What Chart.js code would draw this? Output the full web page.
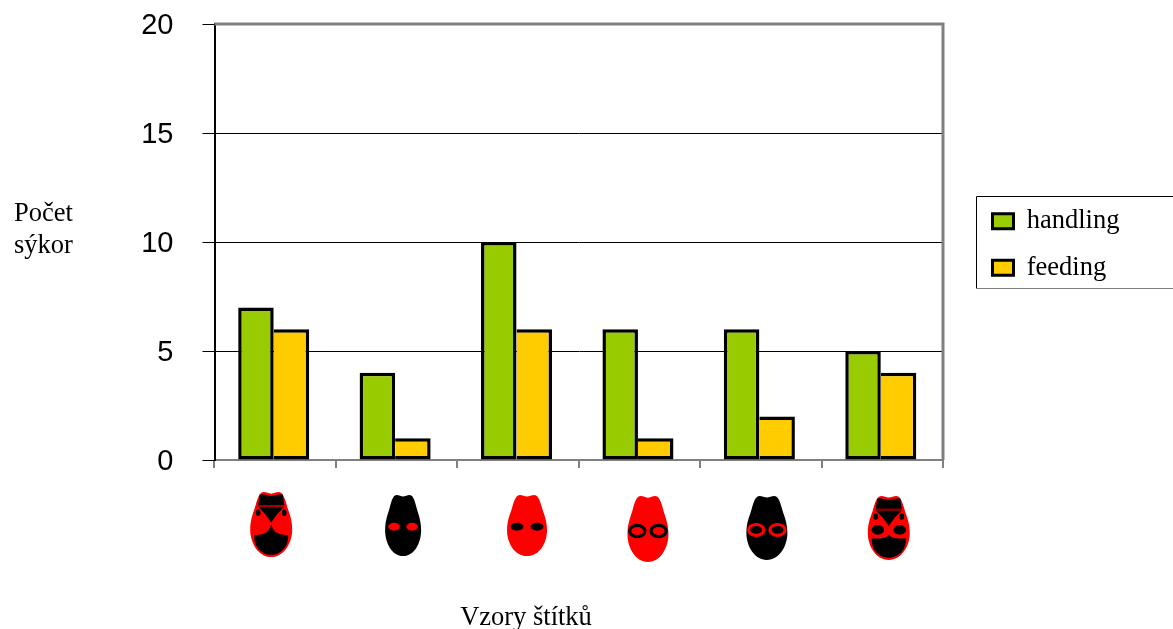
<!DOCTYPE html>
<html><head><meta charset="utf-8">
<style>html,body{margin:0;padding:0;background:#fff;overflow:hidden}canvas{display:block}</style>
<script src="https://cdn.jsdelivr.net/npm/chart.js@4"></script></head>
<body><canvas id="c" width="1173" height="629"></canvas>
<script>
const categories = ['A','B','C','D','E','F'];
const handling = [7,4,10,6,6,5];
const feeding = [6,1,6,1,2,4];
const yTicks = [0,5,10,15,20];
const yTitleLines = ['Počet','sýkor'];
const xTitle = 'Vzory štítků';
const iconKinds = ['patternRed','spotsBlack','spotsRed','ringsRed','ringsBlack','patternRings'];
const iconShift = [-4,6.5,9,8.5,6,6.5];
const iconTop = [492,495,495,496,496,496];
const iconHeight = [65,61,61,66,64,64];
const iconHalf = [21,18,20,20.5,20.5,21];
const RED='#ff0000', BLACK='#000000', GREEN='#99cc00', YELLOW='#ffcc00', GREY='#808080';
const SERIF='"Liberation Serif","Times New Roman",serif';
const SANS='"Liberation Sans",Arial,sans-serif';

function outline(ctx,X,Y){
  ctx.beginPath();
  ctx.moveTo(X(0),Y(.025));
  ctx.bezierCurveTo(X(.12),Y(.025),X(.22),Y(0),X(.36),Y(0));
  ctx.bezierCurveTo(X(.52),Y(0),X(.62),Y(.06),X(.74),Y(.2));
  ctx.bezierCurveTo(X(.82),Y(.3),X(1),Y(.4),X(1),Y(.58));
  ctx.bezierCurveTo(X(1),Y(.78),X(.62),Y(1),X(0),Y(1));
  ctx.bezierCurveTo(X(-.62),Y(1),X(-1),Y(.78),X(-1),Y(.58));
  ctx.bezierCurveTo(X(-1),Y(.4),X(-.82),Y(.3),X(-.74),Y(.2));
  ctx.bezierCurveTo(X(-.62),Y(.06),X(-.52),Y(0),X(-.36),Y(0));
  ctx.bezierCurveTo(X(-.22),Y(0),X(-.12),Y(.025),X(0),Y(.025));
  ctx.closePath();
}
function face(ctx,cx,top,hw,h,fill){
  outline(ctx,u=>cx+u*hw,v=>top+v*h);
  ctx.fillStyle=fill; ctx.fill();
}
function pair(ctx,cx,top,hw,h,u,v,ru,rv,fill,stroke,lw){
  [-1,1].forEach(s=>{
    ctx.beginPath();
    ctx.ellipse(cx+s*u*hw,top+v*h,ru*hw,rv*h,0,0,Math.PI*2);
    if(fill){ctx.fillStyle=fill;ctx.fill();}
    if(stroke){ctx.strokeStyle=stroke;ctx.lineWidth=lw;ctx.stroke();}
  });
}
function pattern(ctx,cx,top,hw,h,rings){
  const X=u=>cx+u*hw, Y=v=>top+v*h;
  face(ctx,cx,top,hw,h,RED);
  ctx.fillStyle=BLACK;
  ctx.beginPath();
  ctx.moveTo(X(-.55),Y(.04));
  ctx.bezierCurveTo(X(-.2),Y(.03),X(-.2),Y(.06),X(0),Y(.06));
  ctx.bezierCurveTo(X(.2),Y(.06),X(.2),Y(.03),X(.55),Y(.04));
  ctx.lineTo(X(.62),Y(.2)); ctx.lineTo(X(-.62),Y(.2)); ctx.closePath(); ctx.fill();
  ctx.beginPath();
  ctx.moveTo(X(-.62),Y(.225));ctx.lineTo(X(.62),Y(.225));
  ctx.quadraticCurveTo(X(.25),Y(.33),X(0),Y(.47));
  ctx.quadraticCurveTo(X(-.25),Y(.33),X(-.62),Y(.225));
  ctx.closePath();ctx.fill();
  ctx.strokeStyle='#7a0000';ctx.lineWidth=1;
  ctx.beginPath();ctx.moveTo(X(-.63),Y(.212));ctx.lineTo(X(.63),Y(.212));ctx.stroke();
  pair(ctx,cx,top,hw,h,.62,.32,.11,.05,BLACK);
  const peak=rings?.6:.5;
  ctx.beginPath();
  ctx.moveTo(X(0),Y(peak));
  ctx.quadraticCurveTo(X(.12),Y(.68),X(.8),Y(.66));
  ctx.bezierCurveTo(X(.86),Y(.82),X(.5),Y(.965),X(0),Y(.965));
  ctx.bezierCurveTo(X(-.5),Y(.965),X(-.86),Y(.82),X(-.8),Y(.66));
  ctx.quadraticCurveTo(X(-.12),Y(.68),X(0),Y(peak));
  ctx.closePath();ctx.fill();
  if(rings) pair(ctx,cx,top,hw,h,.52,.53,.3,.075,BLACK);
}
function drawIcon(ctx,kind,cx,top,hw,h){
  if(kind==='patternRed') pattern(ctx,cx,top,hw,h,false);
  else if(kind==='patternRings') pattern(ctx,cx,top,hw,h,true);
  else if(kind==='spotsBlack'){face(ctx,cx,top,hw,h,BLACK);pair(ctx,cx,top,hw,h,.5,.52,.32,.065,RED);}
  else if(kind==='spotsRed'){face(ctx,cx,top,hw,h,RED);pair(ctx,cx,top,hw,h,.5,.52,.32,.065,BLACK);}
  else if(kind==='ringsRed'){face(ctx,cx,top,hw,h,RED);pair(ctx,cx,top,hw,h,.52,.53,.37,.085,null,BLACK,3.2);}
  else if(kind==='ringsBlack'){face(ctx,cx,top,hw,h,BLACK);pair(ctx,cx,top,hw,h,.52,.53,.37,.085,null,RED,3.2);}
}
const decor={
  id:'decor',
  afterLayout(chart){
    const l=chart.legend;
    l.left=972.5; l.top=188; l.right=1173; l.bottom=400;
  },
  beforeDatasetsDraw(chart){chart.ctx.save();chart.ctx.translate(-1.5,0);},
  afterDatasetsDraw(chart){
    chart.ctx.restore();
    const ctx=chart.ctx, a=chart.chartArea, xs=chart.scales.x;
    ctx.save();
    ctx.strokeStyle=GREY;ctx.lineWidth=3;
    ctx.beginPath();ctx.moveTo(a.left,a.top);ctx.lineTo(a.right,a.top);ctx.lineTo(a.right,a.bottom);ctx.stroke();
    categories.forEach((c,i)=>drawIcon(ctx,iconKinds[i],xs.getPixelForValue(i)+iconShift[i],iconTop[i],iconHalf[i],iconHeight[i]));
    ctx.fillStyle='#000';ctx.font='26.5px '+SERIF;ctx.textBaseline='middle';ctx.textAlign='left';
    ctx.fillText(yTitleLines[0],14,214);
    ctx.fillText(yTitleLines[1],14,246);
    ctx.textAlign='center';
    ctx.fillText(xTitle,526,618);
    ctx.restore();
  },
  beforeDraw(chart){
    const ctx=chart.ctx;
    ctx.save();
    ctx.strokeStyle='#000';ctx.lineWidth=1;
    ctx.beginPath();ctx.moveTo(1173,196.5);ctx.lineTo(976.5,196.5);ctx.lineTo(976.5,288);ctx.stroke();
    ctx.strokeStyle=GREY;
    ctx.beginPath();ctx.moveTo(976,288.5);ctx.lineTo(1173,288.5);ctx.stroke();
    ctx.restore();
  }
};
new Chart(document.getElementById('c'),{
  type:'bar',
  data:{labels:categories,datasets:[
    {label:'handling',data:handling,backgroundColor:GREEN,borderColor:BLACK,borderWidth:3.5,borderSkipped:false},
    {label:'feeding',data:feeding,backgroundColor:YELLOW,borderColor:BLACK,borderWidth:{left:0,top:3.5,right:3.5,bottom:3.5},borderSkipped:false}
  ]},
  options:{
    responsive:false,animation:false,devicePixelRatio:1,
    layout:{padding:{top:24,right:230,left:0,bottom:0}},
    datasets:{bar:{categoryPercentage:.585,barPercentage:1}},
    plugins:{
      tooltip:{enabled:false},
      legend:{position:'chartArea',align:'start',
        labels:{color:'#000',boxWidth:21,boxHeight:15,padding:20,font:{family:SERIF,size:26.5},
          generateLabels(chart){
            return Chart.defaults.plugins.legend.labels.generateLabels(chart).map(i=>Object.assign(i,{lineWidth:3}));
          }}}
    },
    scales:{
      x:{
        afterFit(s){s.height=169;s.paddingLeft=0;s.paddingRight=0;},
        grid:{offset:true,drawOnChartArea:false,color:GREY,lineWidth:2,tickLength:8},
        border:{color:GREY,width:2},
        ticks:{display:false}
      },
      y:{
        min:0,max:20,
        afterFit(s){s.width=214.5;s.paddingTop=0;s.paddingBottom=0;},
        afterBuildTicks(s){s.ticks=yTicks.map(v=>({value:v}));},
        grid:{color:c=>c.tick&&c.tick.value===0?GREY:BLACK,lineWidth:1,tickLength:12,tickColor:BLACK},
        border:{color:BLACK,width:2},
        ticks:{color:'#000',padding:29,labelOffset:1.5,font:{family:SANS,size:29}}
      }
    }
  },
  plugins:[decor]
});
</script></body></html>
